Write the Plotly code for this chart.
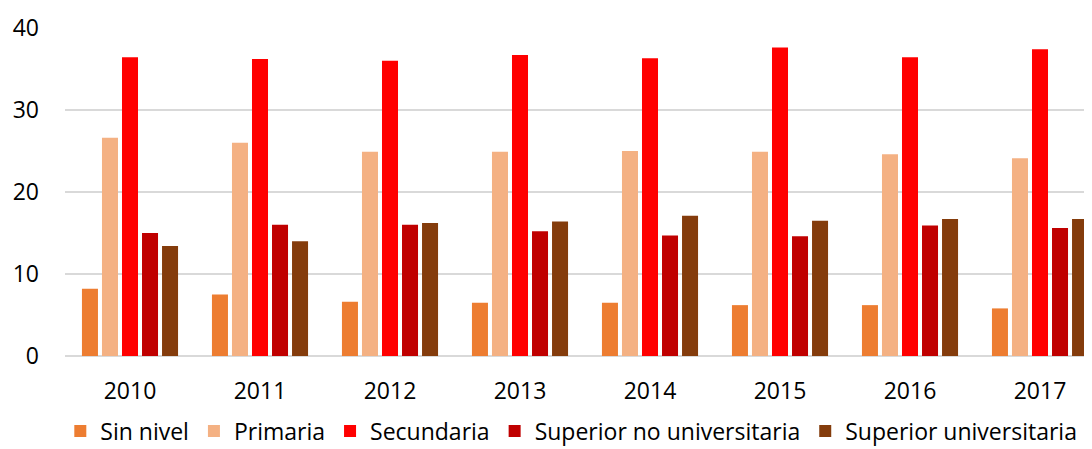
import plotly.graph_objects as go

years = ["2010", "2011", "2012", "2013", "2014", "2015", "2016", "2017"]
sin_nivel = [8.2, 7.5, 6.6, 6.5, 6.5, 6.2, 6.2, 5.8]
primaria = [26.6, 26.0, 24.9, 24.9, 25.0, 24.9, 24.6, 24.1]
secundaria = [36.4, 36.2, 36.0, 36.7, 36.3, 37.6, 36.4, 37.4]
sup_no_univ = [15.0, 16.0, 16.0, 15.2, 14.7, 14.6, 15.9, 15.6]
sup_univ = [13.4, 14.0, 16.2, 16.4, 17.1, 16.5, 16.7, 16.7]

series = [
    ("Sin nivel", sin_nivel, "#ED7D31"),
    ("Primaria", primaria, "#F4B183"),
    ("Secundaria", secundaria, "#FF0000"),
    ("Superior no universitaria", sup_no_univ, "#C00000"),
    ("Superior universitaria", sup_univ, "#843C0C"),
]

fig = go.Figure()
for name, vals, col in series:
    fig.add_trace(go.Bar(x=years, y=vals, name=name, marker_color=col,
                         marker_line_width=0))

# page body has an 8px margin, so the figure is 8px smaller each way
font = "Open Sans"
fig.update_layout(
    width=1084, height=441,
    margin=dict(l=57, r=0, t=19, b=93, autoexpand=False),
    paper_bgcolor="white", plot_bgcolor="white",
    barmode="group", bargap=0.23, bargroupgap=0.2,
    font=dict(family=font, size=23, color="#000000"),
    legend=dict(orientation="h", x=0.493, xanchor="center",
                y=-0.228, yanchor="middle",
                font=dict(size=23), itemwidth=30, tracegroupgap=0),
    xaxis=dict(type="category", range=[-0.5, 7.4], showgrid=False,
               showline=False, ticks="", ticklabelstandoff=19),
    yaxis=dict(range=[0, 40.1], tickvals=[0, 10, 20, 30, 40], showgrid=True,
               gridcolor="#D9D9D9", gridwidth=1.5, zeroline=True,
               zerolinecolor="#D9D9D9", zerolinewidth=1.5, showline=False,
               ticks="", ticklabelstandoff=25),
)

fig.write_html("out.html")
